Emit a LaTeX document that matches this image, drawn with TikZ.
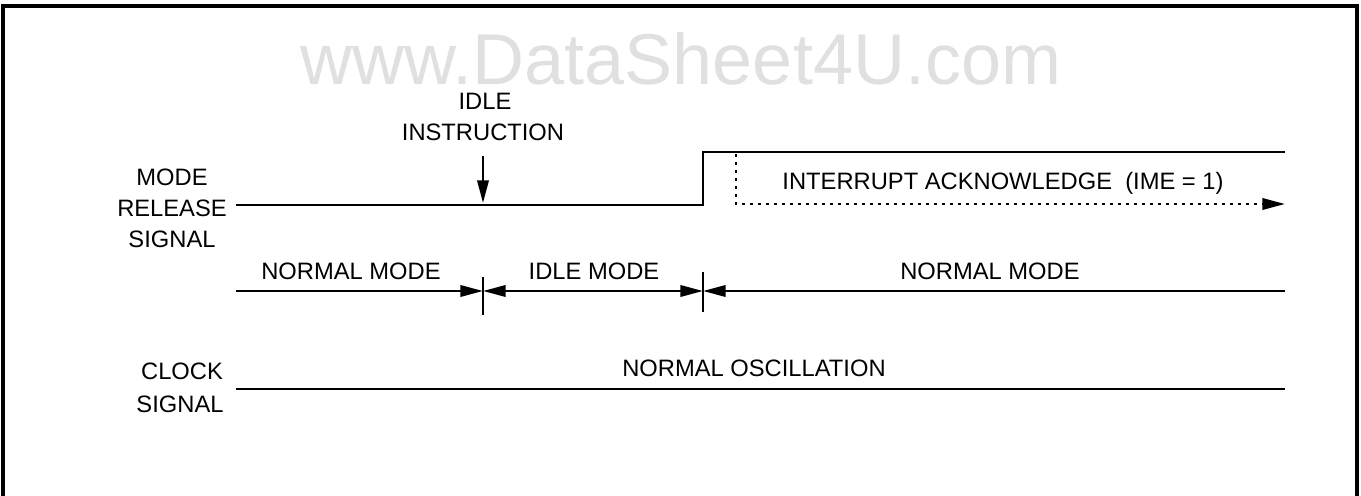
\documentclass[tikz,border=0pt]{standalone}
\usepackage{fontspec}
\setmainfont{Liberation Sans}
\usetikzlibrary{arrows.meta}
\begin{document}
\begin{tikzpicture}[x=0.75pt,y=-0.75pt,
  lbl/.style={font=\fontsize{17.8}{20}\selectfont, inner sep=0pt, anchor=base},
  wmark/.style={font=\fontsize{54}{56}\selectfont, text=black!12, inner sep=0pt, anchor=base},
  sig/.style={line width=1.9pt},
  tick/.style={line width=1.6pt},
  dotline/.style={line width=1.9pt, dash pattern=on 1.9pt off 4.1pt},
  tip/.style={-{Triangle[length=17pt,width=8.5pt]}},
  tips/.style={{Triangle[length=17pt,width=8.5pt]}-{Triangle[length=17pt,width=8.5pt]}},
  frame/.style={line width=3pt}]
\useasboundingbox (0,0) rectangle (1361,496);
\clip (0,0) rectangle (1361,496);
% frame
\coordinate (f0) at (3,520);
\coordinate (f1) at (3,6);
\coordinate (f2) at (1357,6);
\coordinate (f3) at (1357,520);
\draw[frame] (f0) -- (f1) -- (f2) -- (f3);
% watermark
\node[wmark] (wm) at (681,84) {www.DataSheet4U.com};
% labels
\node[lbl] (idle) at (485,109) {IDLE};
\node[lbl] (instr) at (483,140) {INSTRUCTION};
\node[lbl] (mode) at (172,185) {MODE};
\node[lbl] (release) at (172,216) {RELEASE};
\node[lbl] (signal1) at (172,247) {SIGNAL};
\node[lbl] (intack) at (1003,189) {INTERRUPT ACKNOWLEDGE\ \ (IME = 1)};
\node[lbl] (nm1) at (351,279) {NORMAL MODE};
\node[lbl] (im) at (594,279) {IDLE MODE};
\node[lbl] (nm2) at (990,279) {NORMAL MODE};
\node[lbl] (clock) at (182,379) {CLOCK};
\node[lbl] (signal2) at (180,412) {SIGNAL};
\node[lbl] (osc) at (754,376) {NORMAL OSCILLATION};
% mode release signal
\coordinate (ms0) at (236,205);
\coordinate (ms1) at (703,205);
\coordinate (ms2) at (703,152);
\coordinate (ms3) at (1285,152);
\draw[sig] (ms0) -- (ms1) -- (ms2) -- (ms3);
% idle instruction arrow
\coordinate (ia0) at (483,156);
\coordinate (ia1) at (483,203);
\draw[sig,tip] (ia0) -- (ia1);
% interrupt acknowledge dotted
\coordinate (d0) at (736,154);
\coordinate (d1) at (736,204);
\coordinate (d2) at (1285,204);
\draw[dotline,tip] (d0) -- (d1) -- (d2);
% mode bar
\coordinate (b0) at (236,291);
\coordinate (b1) at (483,291);
\coordinate (b2) at (703,291);
\coordinate (b3) at (1285,291);
\draw[sig,tip] (b0) -- (b1);
\draw[sig,tips] (b1) -- (b2);
\draw[sig,tip] (b3) -- (b2);
\coordinate (t0) at (483,277);
\coordinate (t1) at (483,315);
\coordinate (t2) at (703,272);
\coordinate (t3) at (703,312);
\draw[tick] (t0) -- (t1);
\draw[tick] (t2) -- (t3);
% clock signal
\coordinate (c0) at (236,389);
\coordinate (c1) at (1285,389);
\draw[sig] (c0) -- (c1);
\end{tikzpicture}
\end{document}
